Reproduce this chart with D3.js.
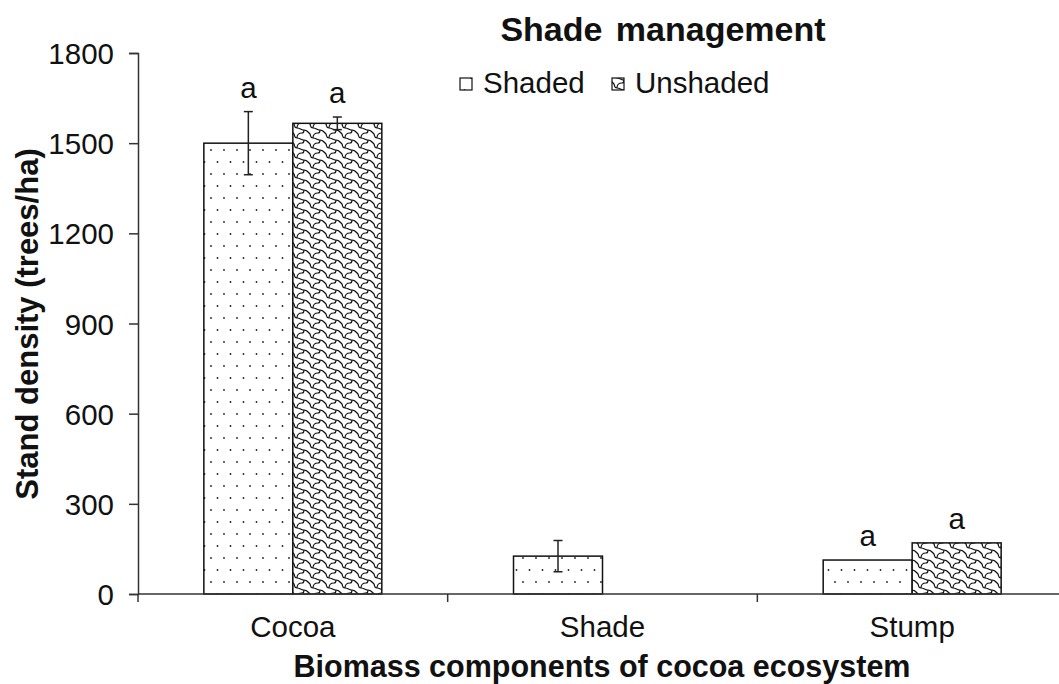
<!DOCTYPE html>
<html>
<head>
<meta charset="utf-8">
<script src="https://cdn.jsdelivr.net/npm/d3@7"></script>
<style>
  body { margin: 0; background: #fff; }
  text { font-family: "Liberation Sans", Arial, sans-serif; fill: #111; }
</style>
</head>
<body>
<div id="chart"></div>
<script>
var categories = ["Cocoa", "Shade", "Stump"];
var seriesNames = ["Shaded", "Unshaded"];
var shadedValues = [1500, 126, 113];
var unshadedValues = [1566, 0, 170];
var shadedErrors = [105, 52, 0];
var unshadedErrors = [21, 0, 0];
var shadedLetters = ["a", "", "a"];
var unshadedLetters = ["a", "", "a"];
var yTicks = [0, 300, 600, 900, 1200, 1500, 1800];

var rows = [];
categories.forEach(function(c, i) {
    rows.push({cat: c, series: "Shaded", value: shadedValues[i], err: shadedErrors[i], letter: shadedLetters[i]});
    rows.push({cat: c, series: "Unshaded", value: unshadedValues[i], err: unshadedErrors[i], letter: unshadedLetters[i]});
});

var width = 1059, height = 684;
var margin = {top: 53, left: 138, bottom: 90};
var plotRight = 1067;
var plotBottom = height - margin.bottom;

var svg = d3.select("#chart").append("svg")
    .attr("width", width)
    .attr("height", height);

var defs = svg.append("defs");

// dotted fill
var dots = defs.append("pattern")
    .attr("id", "dots")
    .attr("patternUnits", "userSpaceOnUse")
    .attr("width", 13).attr("height", 24);
dots.append("rect").attr("width", 13).attr("height", 24).attr("fill", "#fff");
dots.append("circle").attr("cx", 3).attr("cy", 6).attr("r", 0.9).attr("fill", "#222");
dots.append("circle").attr("cx", 9.5).attr("cy", 18).attr("r", 0.9).attr("fill", "#222");

// shingle fill - diagonal chains of scales
var shingle = defs.append("pattern")
    .attr("id", "shingle")
    .attr("patternUnits", "userSpaceOnUse")
    .attr("width", 16).attr("height", 10);
shingle.append("rect").attr("width", 16).attr("height", 10).attr("fill", "#fff");
var shinglePath = "M0,0 C3,0 4,2 6,4 C7,6 6,8 9,8 C12,8 13,10 16,10 M9,8 C9,5 11,3 14,3 C15,3 16,2 16,0";
[[0, 0], [-16, -10], [16, 10], [-16, 0], [0, -10], [16, 0], [0, 10]].forEach(function(o) {
    shingle.append("path")
        .attr("d", shinglePath)
        .attr("transform", "translate(" + o[0] + "," + o[1] + ")")
        .attr("fill", "none").attr("stroke", "#111").attr("stroke-width", 1.2);
});

var fills = {Shaded: "url(#dots)", Unshaded: "url(#shingle)"};

var x0 = d3.scaleBand()
    .domain(categories)
    .range([margin.left, plotRight])
    .padding(0);

var x1 = d3.scaleBand()
    .domain(seriesNames)
    .range([0, x0.bandwidth()])
    .paddingInner(0)
    .paddingOuter(0.74);

var y = d3.scaleLinear()
    .domain([0, 1800])
    .range([plotBottom, margin.top]);

// y axis
var yAxis = d3.axisLeft(y).tickValues(yTicks).tickFormat(d3.format("d")).tickSize(9).tickPadding(15);
var gy = svg.append("g")
    .attr("transform", "translate(" + margin.left + ",0)")
    .call(yAxis);
gy.select(".domain").attr("stroke", "#333").attr("stroke-width", 1.5);
gy.selectAll(".tick line").attr("stroke", "#333").attr("stroke-width", 1.5);
gy.selectAll(".tick text")
    .style("font-family", "Liberation Sans, Arial, sans-serif")
    .style("font-size", "29.5px")
    .attr("fill", "#111")
    .attr("dy", "0.36em");

// bars
var bars = svg.append("g");
bars.selectAll("rect")
    .data(rows.filter(function(d){ return d.value > 0; }))
    .enter().append("rect")
    .attr("x", function(d){ return x0(d.cat) + x1(d.series); })
    .attr("y", function(d){ return y(d.value); })
    .attr("width", x1.bandwidth())
    .attr("height", function(d){ return plotBottom - y(d.value); })
    .attr("fill", function(d){ return fills[d.series]; })
    .attr("stroke", "#111")
    .attr("stroke-width", 1.5);

// error bars
var errs = svg.append("g");
var withErr = rows.filter(function(d){ return d.err > 0; });
errs.selectAll("line.v")
    .data(withErr)
    .enter().append("line")
    .attr("class", "v")
    .attr("x1", function(d){ return x0(d.cat) + x1(d.series) + x1.bandwidth() / 2; })
    .attr("x2", function(d){ return x0(d.cat) + x1(d.series) + x1.bandwidth() / 2; })
    .attr("y1", function(d){ return y(d.value + d.err); })
    .attr("y2", function(d){ return y(d.value - d.err); })
    .attr("stroke", "#222").attr("stroke-width", 1.5);
[1, -1].forEach(function(s) {
    errs.selectAll("line.cap" + (s > 0 ? "t" : "b"))
        .data(withErr)
        .enter().append("line")
        .attr("x1", function(d){ return x0(d.cat) + x1(d.series) + x1.bandwidth() / 2 - 4.5; })
        .attr("x2", function(d){ return x0(d.cat) + x1(d.series) + x1.bandwidth() / 2 + 4.5; })
        .attr("y1", function(d){ return y(d.value + s * d.err); })
        .attr("y2", function(d){ return y(d.value + s * d.err); })
        .attr("stroke", "#222").attr("stroke-width", 1.5);
});

// letters
svg.append("g").selectAll("text")
    .data(rows.filter(function(d){ return d.letter; }))
    .enter().append("text")
    .attr("x", function(d){ return x0(d.cat) + x1(d.series) + x1.bandwidth() / 2; })
    .attr("y", function(d){ return y(d.value + d.err) - 14; })
    .attr("text-anchor", "middle")
    .style("font-size", "29.5px")
    .text(function(d){ return d.letter; });

// x axis
var xa = svg.append("g");
xa.append("line")
    .attr("x1", margin.left).attr("x2", plotRight)
    .attr("y1", plotBottom).attr("y2", plotBottom)
    .attr("stroke", "#333").attr("stroke-width", 1.5);
var bounds = categories.map(function(c){ return x0(c); }).concat([plotRight]);
xa.selectAll("line.tk")
    .data(bounds)
    .enter().append("line")
    .attr("class", "tk")
    .attr("x1", function(d){ return d; }).attr("x2", function(d){ return d; })
    .attr("y1", plotBottom).attr("y2", plotBottom + 8)
    .attr("stroke", "#333").attr("stroke-width", 1.5);
xa.selectAll("text")
    .data(categories)
    .enter().append("text")
    .attr("x", function(d){ return x0(d) + x0.bandwidth() / 2; })
    .attr("y", plotBottom + 43)
    .attr("text-anchor", "middle")
    .style("font-size", "29.5px")
    .text(function(d){ return d; });

// axis titles
svg.append("text")
    .attr("x", 602).attr("y", 677)
    .attr("text-anchor", "middle")
    .style("font-size", "30.5px").style("font-weight", "bold")
    .text("Biomass components of cocoa ecosystem");

svg.append("text")
    .attr("transform", "translate(38,324) rotate(-90)")
    .attr("text-anchor", "middle")
    .style("font-size", "31px").style("font-weight", "bold")
    .text("Stand density (trees/ha)");

// title
svg.append("text")
    .attr("x", 663).attr("y", 41)
    .attr("text-anchor", "middle")
    .style("font-size", "34px").style("font-weight", "bold")
    .style("word-spacing", "4px")
    .text("Shade management");

// legend
var legendX = [460, 612];
var legend = svg.append("g");
seriesNames.forEach(function(s, i) {
    legend.append("rect")
        .attr("x", legendX[i]).attr("y", 78)
        .attr("width", 12).attr("height", 12)
        .attr("fill", fills[s])
        .attr("stroke", "#111").attr("stroke-width", 1.2);
    legend.append("text")
        .attr("x", legendX[i] + 23).attr("y", 93)
        .style("font-size", "29.5px")
        .text(s);
});
</script>
</body>
</html>
